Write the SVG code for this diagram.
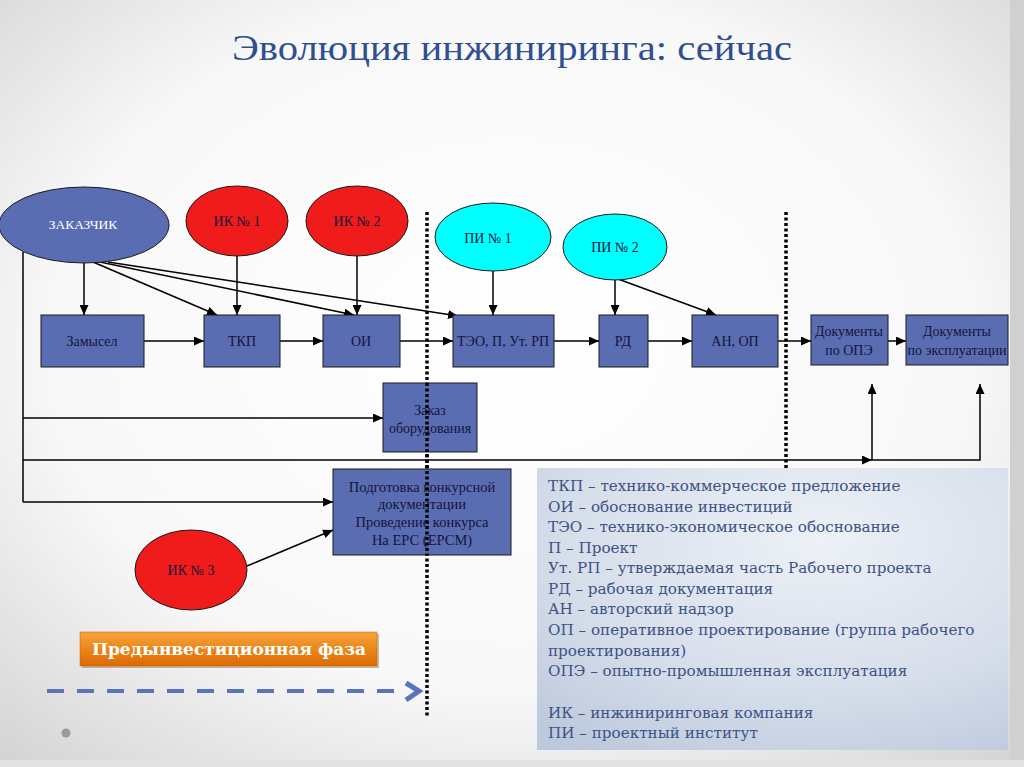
<svg xmlns="http://www.w3.org/2000/svg" width="1024" height="767" viewBox="0 0 1024 767">
<defs>
<radialGradient id="bg" cx="0.5" cy="0.45" r="0.75">
<stop offset="0" stop-color="#ffffff"/>
<stop offset="0.6" stop-color="#f8f8f8"/>
<stop offset="1" stop-color="#d2d2d2"/>
</radialGradient>
<radialGradient id="lg" cx="0.6" cy="0.25" r="0.9">
<stop offset="0" stop-color="#edf1f7"/>
<stop offset="0.6" stop-color="#d6deea"/>
<stop offset="1" stop-color="#bcc8dc"/>
</radialGradient>
<linearGradient id="og" x1="0" y1="0" x2="0" y2="1">
<stop offset="0" stop-color="#f7a43a"/>
<stop offset="1" stop-color="#dc6a00"/>
</linearGradient>
<marker id="ah" markerUnits="userSpaceOnUse" markerWidth="11" markerHeight="9" refX="10" refY="4.5" orient="auto">
<path d="M0,0 L10,4.5 L0,9 z" fill="#000"/>
</marker>
<style>
.bx{fill:#5b6db2;stroke:#1a1a1a;stroke-width:1}
.red{fill:#f01c1c;stroke:#1a1a1a;stroke-width:1}
.cy{fill:#00ffff;stroke:#1a1a1a;stroke-width:1}
.t{font-family:"Liberation Serif",serif;font-size:14px;fill:#14143a;text-anchor:middle}
.tw{font-family:"Liberation Serif",serif;font-size:13.5px;fill:#ffffff;text-anchor:middle}
.c{fill:none;stroke:#000;stroke-width:1.5;marker-end:url(#ah)}
.cn{fill:none;stroke:#000;stroke-width:1.5}
.dot{fill:none;stroke:#000;stroke-width:3.5;stroke-dasharray:3 2.5}
.lt{font-family:"DejaVu Serif",serif;font-size:15.2px;fill:#3d5286}
</style>
</defs>
<rect x="0" y="0" width="1024" height="767" fill="url(#bg)"/>
<rect x="1010" y="0" width="14" height="767" fill="#d0d0d0"/>
<rect x="0" y="760" width="1024" height="7" fill="#e2e2e2"/>

<text x="512" y="60" font-family="Liberation Serif, serif" font-size="36" fill="#2f4f8f" text-anchor="middle" textLength="560" lengthAdjust="spacingAndGlyphs">Эволюция инжиниринга: сейчас</text>

<g id="dotted">
<line class="dot" x1="427" y1="212" x2="427" y2="716"/>
<line class="dot" x1="786" y1="212" x2="786" y2="470"/>
</g>

<g id="legend">
<rect x="537" y="468" width="471" height="282" fill="url(#lg)"/>
<text class="lt" x="548" y="491">ТКП – технико-коммерческое предложение</text>
<text class="lt" x="548" y="512">ОИ – обоснование инвестиций</text>
<text class="lt" x="548" y="532">ТЭО – технико-экономическое обоснование</text>
<text class="lt" x="548" y="553">П – Проект</text>
<text class="lt" x="548" y="573">Ут. РП – утверждаемая часть Рабочего проекта</text>
<text class="lt" x="548" y="594">РД – рабочая документация</text>
<text class="lt" x="548" y="614">АН – авторский надзор</text>
<text class="lt" x="548" y="635">ОП – оперативное проектирование (группа рабочего</text>
<text class="lt" x="548" y="656">проектирования)</text>
<text class="lt" x="548" y="676">ОПЭ – опытно-промышленная эксплуатация</text>
<text class="lt" x="548" y="718">ИК – инжиниринговая компания</text>
<text class="lt" x="548" y="738">ПИ – проектный институт</text>
</g>

<g id="connectors">
<path class="c" d="M84,263 L84,315"/>
<path class="c" d="M93,262 L217,315"/>
<path class="c" d="M100,262 L354,315"/>
<path class="c" d="M108,262 L458,316"/>
<path class="c" d="M237,256 L237,315"/>
<path class="c" d="M357,256 L357,315"/>
<path class="c" d="M493,271 L493,315"/>
<path class="c" d="M615,280 L615,315"/>
<path class="c" d="M618,279 L716,315"/>
<path class="c" d="M144,341 L204,341"/>
<path class="c" d="M280,341 L323,341"/>
<path class="c" d="M400,341 L453,341"/>
<path class="c" d="M554,341 L599,341"/>
<path class="c" d="M648,341 L692,341"/>
<path class="c" d="M778,341 L811,341"/>
<path class="c" d="M888,341 L906,341"/>
<path class="cn" d="M23,252 L23,502"/>
<path class="c" d="M23,418 L383,418"/>
<path class="c" d="M23,460 L872,460"/>
<path class="c" d="M872,460 L872,384"/>
<path class="c" d="M872,460 L980,460 L980,384"/>
<path class="c" d="M23,502 L333,502"/>
<path class="c" d="M247,566 L333,530"/>
</g>

<g id="zakazchik"><ellipse cx="84" cy="225" rx="85" ry="38" class="bx"/><text class="tw" x="83" y="229">ЗАКАЗЧИК</text></g>
<g id="ik1"><ellipse cx="237" cy="221" rx="51" ry="35" class="red"/><text class="t" x="237" y="226">ИК № 1</text></g>
<g id="ik2"><ellipse cx="357" cy="221" rx="51" ry="35" class="red"/><text class="t" x="357" y="226">ИК № 2</text></g>
<g id="pi1"><ellipse cx="493" cy="237" rx="58" ry="34" class="cy"/><text class="t" x="488" y="243">ПИ № 1</text></g>
<g id="pi2"><ellipse cx="615" cy="247" rx="52" ry="33" class="cy"/><text class="t" x="615" y="252">ПИ № 2</text></g>
<g id="ik3"><ellipse cx="191" cy="570" rx="56" ry="40" class="red"/><text class="t" x="191" y="575">ИК № 3</text></g>

<g id="zamysel"><rect x="41" y="315" width="103" height="52" class="bx"/><text class="t" x="92" y="346">Замысел</text></g>
<g id="tkp"><rect x="204" y="315" width="76" height="52" class="bx"/><text class="t" x="242" y="346">ТКП</text></g>
<g id="oi"><rect x="323" y="315" width="77" height="52" class="bx"/><text class="t" x="361" y="346">ОИ</text></g>
<g id="teo"><rect x="453" y="315" width="101" height="52" class="bx"/><text class="t" x="503" y="346">ТЭО, П, Ут. РП</text></g>
<g id="rd"><rect x="599" y="315" width="49" height="52" class="bx"/><text class="t" x="623" y="346">РД</text></g>
<g id="an"><rect x="692" y="315" width="86" height="52" class="bx"/><text class="t" x="735" y="346">АН, ОП</text></g>
<g id="docope"><rect x="811" y="315" width="77" height="50" class="bx"/><text class="t" x="849" y="336">Документы</text><text class="t" x="849" y="355">по ОПЭ</text></g>
<g id="docexp"><rect x="906" y="315" width="102" height="50" class="bx"/><text class="t" x="957" y="336">Документы</text><text class="t" x="957" y="355" textLength="99" lengthAdjust="spacingAndGlyphs">по эксплуатации</text></g>
<g id="zakaz"><rect x="383" y="383" width="94" height="69" class="bx"/><text class="t" x="430" y="415">Заказ</text><text class="t" x="430" y="433">оборудования</text></g>
<g id="podg"><rect x="333" y="469" width="178" height="86" class="bx"/><text class="t" x="422" y="492" style="font-size:14.5px">Подготовка конкурсной</text><text class="t" x="422" y="509" style="font-size:14.5px">документации</text><text class="t" x="422" y="527" style="font-size:14.5px">Проведение конкурса</text><text class="t" x="422" y="545" style="font-size:14.5px">На ЕРС (ЕРСМ)</text></g>

<line class="dot" x1="427" y1="383" x2="427" y2="555"/>

<g id="phase">
<rect x="82" y="634" width="297" height="34" fill="#7a4a10" opacity="0.35"/>
<rect x="80" y="632" width="297" height="34" fill="url(#og)" stroke="#c86000" stroke-width="0.5"/>
<text x="229" y="655" font-family="DejaVu Serif, serif" font-size="16" font-weight="bold" fill="#ffffff" text-anchor="middle" textLength="274" lengthAdjust="spacingAndGlyphs">Предынвестиционная фаза</text>
</g>

<g id="dasharrow">
<line x1="47" y1="691" x2="404" y2="691" stroke="#5b73b8" stroke-width="4" stroke-dasharray="17 13"/>
<polyline points="406,683 419,691 406,700" fill="none" stroke="#5b73b8" stroke-width="5"/>
</g>
<circle cx="66" cy="733" r="4.5" fill="#9a9a9a"/>
</svg>
